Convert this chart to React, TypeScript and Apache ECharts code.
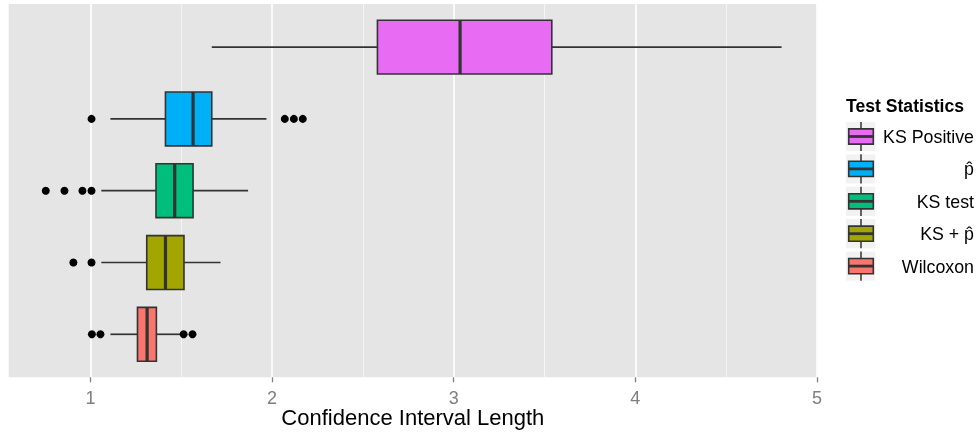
import React, { useEffect, useRef } from 'react';
import * as echarts from 'echarts';

const categories = ['KS Positive', 'p\u0302', 'KS test', 'KS + p\u0302', 'Wilcoxon'];
const colors = ['#E76BF3', '#00B0F6', '#00BF7D', '#A3A500', '#F8766D'];
const whiskerLow = [1.668, 1.11, 1.06, 1.06, 1.11];
const q1 = [2.58, 1.413, 1.361, 1.31, 1.259];
const medians = [3.035, 1.565, 1.464, 1.413, 1.312];
const q3 = [3.54, 1.668, 1.565, 1.515, 1.363];
const whiskerHigh = [4.805, 1.969, 1.868, 1.716, 1.5];
const outliers: number[][] = [
  [],
  [1.006, 2.07, 2.12, 2.169],
  [0.754, 0.857, 0.956, 1.006],
  [0.906, 1.006],
  [1.008, 1.055, 1.513, 1.562],
];
const majorTicks = [1, 2, 3, 4, 5];
const minorTicks = [1.5, 2.5, 3.5, 4.5];
const xMin = 0.55;
const xMax = 5;
const xTitle = 'Confidence Interval Length';
const legendTitle = 'Test Statistics';

const FONT = "'Liberation Sans', Arial, Helvetica, sans-serif";
const STROKE = '#333333';

function buildLegend() {
  const children: any[] = [];
  children.push({
    type: 'text',
    x: 846,
    y: 105.5,
    style: {
      text: legendTitle,
      fontFamily: FONT,
      fontSize: 17.6,
      fontWeight: 'bold',
      fill: '#000000',
      align: 'left',
      verticalAlign: 'middle',
    },
  });
  categories.forEach((name, i) => {
    const cy = 136.5 + i * 32.4;
    children.push({
      type: 'rect',
      shape: { x: 846, y: cy - 14.6, width: 29.3, height: 29.2 },
      style: { fill: '#F2F2F2' },
    });
    children.push({
      type: 'line',
      shape: { x1: 861, y1: cy - 14.6, x2: 861, y2: cy + 14.6 },
      style: { stroke: STROKE, lineWidth: 1.5 },
    });
    children.push({
      type: 'rect',
      shape: { x: 848.7, y: cy - 7.6, width: 24.6, height: 15.2 },
      style: { fill: colors[i], stroke: STROKE, lineWidth: 1.6 },
    });
    children.push({
      type: 'line',
      shape: { x1: 848.7, y1: cy, x2: 873.3, y2: cy },
      style: { stroke: STROKE, lineWidth: 2.8 },
    });
    children.push({
      type: 'text',
      x: 974,
      y: cy + 0.5,
      style: {
        text: name,
        fontFamily: FONT,
        fontSize: 17.8,
        fill: '#000000',
        align: 'right',
        verticalAlign: 'middle',
      },
    });
  });
  return [{ type: 'group', children }];
}

export default function App() {
  const ref = useRef<HTMLDivElement>(null);

  useEffect(() => {
    if (!ref.current) return;
    const chart = echarts.init(ref.current, undefined, { renderer: 'svg' });

    const boxData = categories.map((_, i) => [
      i,
      whiskerLow[i],
      q1[i],
      medians[i],
      q3[i],
      whiskerHigh[i],
    ]);
    const outlierData: number[][] = [];
    outliers.forEach((vals, i) => vals.forEach((v) => outlierData.push([v, i])));

    const option: any = {
      animation: false,
      textStyle: { fontFamily: FONT },
      grid: [
        {
          left: 8.7,
          top: 4,
          width: 808.3,
          height: 373.3,
          show: true,
          backgroundColor: '#E5E5E5',
          borderWidth: 0,
          containLabel: false,
          outerBoundsMode: 'none',
        },
        {
          left: 8.7,
          top: 11.2,
          width: 808.3,
          height: 359,
          show: false,
          containLabel: false,
          outerBoundsMode: 'none',
        },
      ],
      xAxis: [
        {
          gridIndex: 0,
          type: 'value',
          min: xMin,
          max: xMax,
          position: 'bottom',
          axisLine: { show: false },
          axisTick: {
            show: true,
            customValues: majorTicks,
            length: 5,
            lineStyle: { color: '#7F7F7F', width: 1.3 },
          },
          axisLabel: {
            customValues: majorTicks,
            color: '#7F7F7F',
            fontSize: 18,
            lineHeight: 14,
            fontFamily: FONT,
            margin: 14,
          },
          splitLine: { show: true, lineStyle: { color: '#FFFFFF', width: 1.6 } },
          name: xTitle,
          nameLocation: 'middle',
          nameGap: 30,
          nameMoveOverlap: false,
          nameTextStyle: { color: '#000000', fontSize: 22, lineHeight: 20, fontFamily: FONT },
        },
        {
          gridIndex: 0,
          type: 'value',
          min: xMin,
          max: xMax,
          position: 'bottom',
          axisLine: { show: false },
          axisTick: { show: false, customValues: minorTicks },
          axisLabel: { show: false, customValues: minorTicks },
          splitLine: { show: true, lineStyle: { color: '#F5F5F5', width: 0.9 } },
        },
        {
          gridIndex: 1,
          type: 'value',
          min: xMin,
          max: xMax,
          show: false,
        },
      ],
      yAxis: [
        { gridIndex: 0, type: 'value', min: 0, max: 1, show: false },
        {
          gridIndex: 1,
          type: 'category',
          data: categories,
          inverse: true,
          boundaryGap: true,
          show: false,
        },
      ],
      series: [
        {
          type: 'custom',
          xAxisIndex: 2,
          yAxisIndex: 1,
          data: boxData,
          encode: { y: 0, x: [1, 2, 3, 4, 5] },
          clip: false,
          z: 3,
          renderItem: (params: any, api: any) => {
            const i = api.value(0);
            const y = api.coord([api.value(3), i])[1];
            const px = (k: number) => api.coord([api.value(k), i])[0];
            const band = api.size([0, 1])[1];
            const h = band * 0.75;
            return {
              type: 'group',
              children: [
                {
                  type: 'line',
                  shape: { x1: px(1), y1: y, x2: px(2), y2: y },
                  style: { stroke: STROKE, lineWidth: 1.7 },
                },
                {
                  type: 'line',
                  shape: { x1: px(4), y1: y, x2: px(5), y2: y },
                  style: { stroke: STROKE, lineWidth: 1.7 },
                },
                {
                  type: 'rect',
                  shape: { x: px(2), y: y - h / 2, width: px(4) - px(2), height: h },
                  style: { fill: colors[i], stroke: STROKE, lineWidth: 1.6 },
                },
                {
                  type: 'line',
                  shape: { x1: px(3), y1: y - h / 2, x2: px(3), y2: y + h / 2 },
                  style: { stroke: STROKE, lineWidth: 3.2 },
                },
              ],
            };
          },
        },
        {
          type: 'scatter',
          xAxisIndex: 2,
          yAxisIndex: 1,
          data: outlierData,
          symbol: 'circle',
          symbolSize: 8,
          itemStyle: { color: '#000000', opacity: 1 },
          clip: false,
          z: 4,
        },
      ],
      graphic: buildLegend(),
    };

    chart.setOption(option);
    return () => chart.dispose();
  }, []);

  return (
    <div
      ref={ref}
      style={{ position: 'fixed', left: 0, top: 0, width: 976, height: 433 }}
    />
  );
}
